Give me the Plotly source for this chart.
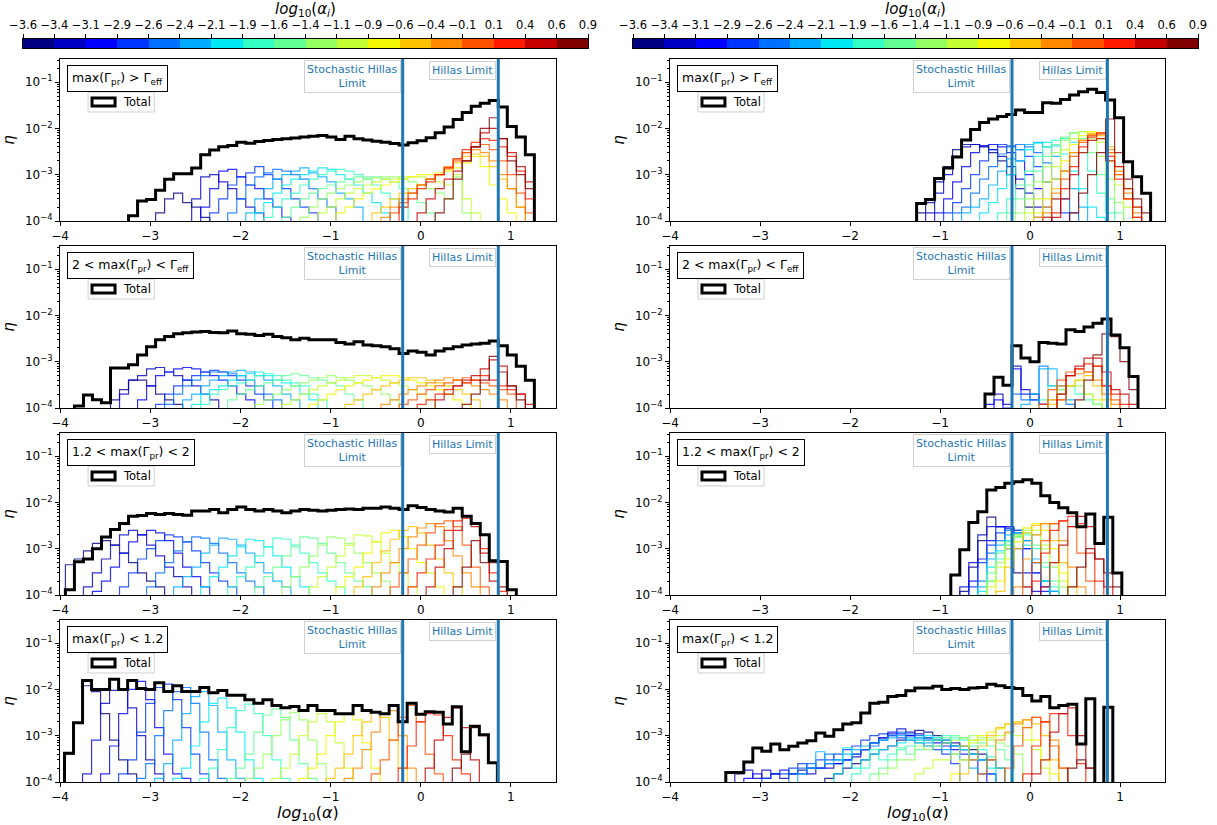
import numpy as np
import plotly.graph_objects as go

# ---------------- data (η values are given in units of 1e-4) ----------------
ETA_UNIT = 1e-4
BIN_W = 0.1
STOCH_LIMIT = -0.2
HILLAS_LIMIT = 0.86

X_TICKS = [-4, -3, -2, -1, 0, 1]
X_TICK_LABELS = ["−4", "−3", "−2", "−1", "0", "1"]
Y_TICKS = [1e-4, 1e-3, 1e-2, 1e-1]
Y_TICK_LABELS = ["10<sup>−4</sup>", "10<sup>−3</sup>", "10<sup>−2</sup>", "10<sup>−1</sup>"]

CBAR_EDGES = [-3.6, -3.35, -3.1, -2.85, -2.6, -2.35, -2.1, -1.85, -1.6, -1.35,
              -1.1, -0.85, -0.6, -0.35, -0.1, 0.15, 0.4, 0.65, 0.9]
CBAR_LABELS = ["−3.6", "−3.4", "−3.1", "−2.9", "−2.6", "−2.4", "−2.1", "−1.9", "−1.6", "−1.4",
               "−1.1", "−0.9", "−0.6", "−0.4", "−0.1", "0.1", "0.4", "0.6", "0.9"]
CBAR_INDEX = list(range(18))

PANEL_LABELS = ["max(Γ<sub>pr</sub>) &gt; Γ<sub>eff</sub>",
                "2 &lt; max(Γ<sub>pr</sub>) &lt; Γ<sub>eff</sub>",
                "1.2 &lt; max(Γ<sub>pr</sub>) &lt; 2",
                "max(Γ<sub>pr</sub>) &lt; 1.2"]

# ---- left column ----
P1_START = -3.24
P1_TOTAL = [1.3, 2.7, 2.9, 4.6, 8.0, 10.5, 10.5, 14, 27, 34, 40, 43, 50, 48, 52, 55, 58, 60, 62, 65,
            68, 70, 65, 58, 68, 60, 56, 53, 50, 47, 44, 49, 54, 63, 81, 107, 155, 220, 300, 350,
            400, 290, 110, 65, 27]
P1_PARTS = {
    0: (-2.94, [1.5, 3, 4, 2.5, 2, 1.2]),
    1: (-2.54, [3, 9, 10, 7, 5, 3, 2, 1.5]),
    2: (-2.44, [2, 5, 12, 13, 9, 6, 5, 3, 2, 1.2]),
    3: (-2.34, [1.5, 3, 6, 9, 11, 15, 10, 8, 5, 3, 2, 1.5]),
    4: (-2.14, [1.5, 3, 6, 9, 11, 13, 12, 10, 8, 5, 3, 2]),
    5: (-1.94, [1.5, 3, 5, 8, 10, 12, 14, 11, 9, 7, 4, 3, 2]),
    6: (-1.84, [1.5, 2.5, 4, 6, 8, 10, 12, 14, 13, 10, 8, 6, 4, 2.5, 1.5]),
    7: (-1.74, [1.2, 2, 3, 4, 6, 8, 10, 12, 13, 12, 10, 8, 6, 4, 3, 2]),
    8: (-1.54, [1.2, 2, 3, 4, 5, 6, 7, 8, 9, 9, 9, 8, 7, 5, 4, 2.5, 1.5]),
    9: (-1.34, [1.2, 2, 3, 4, 5, 6, 7, 8, 8.5, 9, 9, 8, 7, 6, 5, 4, 3, 9, 1.5]),
    10: (-1.14, [1.5, 2, 3, 4, 5, 6, 7, 8, 8, 9, 9, 9, 8, 7, 6, 10, 3, 1.5]),
    11: (-0.94, [1.5, 2, 3, 4, 5, 6, 7, 8, 9, 10, 10, 11, 12, 14, 18, 25, 15, 6, 3, 1.5]),
    12: (-0.54, [1.5, 2, 3, 4, 5, 6, 8, 10, 13, 18, 25, 28, 25, 15, 8, 5, 2]),
    13: (-0.44, [1.2, 2, 3, 4, 6, 8, 10, 15, 22, 30, 35, 30, 20, 10, 5, 2]),
    14: (-0.34, [1.5, 2.5, 4, 6, 8, 10, 14, 20, 30, 40, 45, 35, 20, 10, 4, 1.5]),
    15: (-0.24, [2, 3, 5, 7, 10, 14, 22, 35, 50, 60, 55, 40, 25, 12, 3]),
    16: (-0.04, [1.5, 3, 5, 8, 12, 20, 40, 80, 100, 60, 30, 15, 7]),
    17: (0.16, [1.5, 3, 8, 20, 40, 100, 170, 60, 20, 10, 5]),
}

P2_START = -3.84
P2_TOTAL = [1.1, 1.9, 1.5, 1.3, 7.3, 7.3, 8.6, 14, 21, 30, 35, 40, 42, 44, 45, 43, 42, 46, 40, 39,
            37, 39, 35, 33, 30, 32, 30, 30, 30, 26, 24, 27, 23, 22, 21, 19, 15, 17, 16, 14,
            17, 19, 21, 23, 24, 25, 28, 22, 14, 8, 4]
P2_PARTS = {
    0: (-3.44, [1.5, 2.5, 4, 4, 3, 2, 1.5, 1.2]),
    1: (-3.34, [2, 4, 5, 7, 7.5, 6, 5, 4, 3, 2, 1.5]),
    2: (-3.14, [1.5, 3, 5, 6, 7, 7.5, 7, 6, 5, 4, 3, 2, 1.5]),
    3: (-2.94, [1.2, 2, 3, 4, 5, 6, 6.5, 6, 5, 4, 3, 2, 1.5]),
    4: (-2.84, [1.2, 2, 3, 4, 5, 6, 6, 5.5, 5, 4, 3, 2, 1.5]),
    5: (-2.64, [1.5, 2, 3, 4, 5, 6, 6.5, 6, 5, 4, 3, 2, 1.5]),
    6: (-2.54, [1.2, 2, 2.5, 3, 4, 5, 5.5, 6, 5, 4, 3.5, 3, 2, 1.5]),
    7: (-2.44, [1.2, 2, 2.5, 3, 3.5, 4, 5, 5.5, 5, 4, 3.5, 3, 2, 1.5]),
    8: (-2.14, [1.5, 2, 2.5, 3, 3.5, 4, 5, 5.5, 5, 4.5, 4, 3.5, 3, 2, 1.5]),
    9: (-1.84, [1.2, 1.5, 2, 2.5, 3, 3.5, 4, 4.5, 5, 4.5, 4, 3.5, 3, 2.5, 2, 1.5]),
    10: (-1.54, [1.2, 1.5, 2, 2.5, 3, 3.5, 4, 4.5, 5, 5, 4.5, 4, 3.5, 3, 2.5, 2, 1.5]),
    11: (-1.24, [1.2, 1.5, 2, 2.5, 3, 3.5, 4, 4.5, 5, 5, 4.5, 4, 3.5, 3, 2.5, 2, 1.5, 1.2]),
    12: (-0.84, [1.2, 1.5, 2, 2.5, 3, 3.5, 4, 4.5, 4.5, 4, 3.5, 3, 2.5, 2, 1.5]),
    13: (-0.44, [1.2, 1.5, 2, 2.5, 3, 3.5, 4, 4.5, 4, 3.5, 3, 2.5, 2, 1.5]),
    14: (-0.24, [1.2, 1.5, 2, 2.5, 3, 3.5, 4, 4.5, 4, 3.5, 3, 2.5, 2]),
    15: (-0.04, [1.2, 1.5, 2, 2.5, 3, 3.5, 4, 5, 4, 3, 2.5, 2]),
    16: (0.16, [1.5, 2, 3, 4, 5, 7, 11, 8, 3, 2, 1.2]),
    17: (0.46, [1.2, 2, 4, 13, 6, 3, 1.5]),
}

P3_START = -3.94
P3_TOTAL = [1.3, 5.2, 6.0, 10, 18, 26, 35, 50, 52, 58, 55, 58, 55, 53, 65, 65, 70, 60, 70, 80,
            70, 65, 70, 65, 60, 65, 70, 68, 65, 68, 70, 72, 70, 75, 75, 80, 75, 70, 85, 78,
            70, 65, 62, 75, 50, 35, 20, 5.5, 5.3, 1.3]
P3_PARTS = {
    0: (-3.94, [4.5, 6, 9, 13, 15, 12, 8, 5, 3, 2, 1.5]),
    1: (-3.74, [1.5, 3, 6, 12, 20, 25, 20, 12, 7, 4, 2.5, 1.5]),
    2: (-3.64, [1.2, 2, 4, 8, 14, 20, 25, 22, 15, 8, 4, 2.5, 1.5]),
    3: (-3.34, [1.5, 3, 6, 10, 15, 20, 18, 14, 9, 5, 3, 2, 1.5]),
    4: (-3.04, [1.5, 3, 5, 9, 14, 18, 17, 13, 8, 5, 3, 2, 1.5]),
    5: (-2.74, [1.5, 2.5, 4, 8, 12, 17, 16, 12, 8, 5, 3, 2, 1.5]),
    6: (-2.44, [1.5, 2.5, 4, 7, 11, 16, 15, 11, 7, 4, 2.5, 1.5]),
    7: (-2.14, [1.5, 2.5, 4, 7, 11, 17, 16, 12, 8, 5, 3, 2, 1.5]),
    8: (-1.84, [1.5, 2.5, 4, 7, 11, 18, 17, 13, 8, 5, 3, 2, 1.5]),
    9: (-1.54, [1.5, 2.5, 4, 7, 12, 18, 17, 13, 8, 5, 3, 2]),
    10: (-1.24, [1.5, 2.5, 4, 7, 12, 20, 19, 14, 8, 5, 3, 1.5]),
    11: (-0.94, [1.5, 2.5, 4, 8, 14, 22, 25, 18, 10, 5, 3, 1.5]),
    12: (-0.74, [1.5, 2.5, 5, 9, 16, 25, 30, 22, 12, 6, 3, 1.5]),
    13: (-0.54, [1.5, 3, 5, 10, 18, 28, 35, 30, 15, 7, 3, 1.5]),
    14: (-0.34, [1.5, 3, 6, 12, 22, 35, 40, 30, 12, 4, 1.5]),
    15: (-0.14, [1.5, 3, 6, 12, 25, 40, 45, 35, 10, 3, 1.2]),
    16: (0.06, [1.5, 4, 10, 25, 50, 30, 8, 2]),
    17: (0.36, [1.5, 4, 15, 5, 5, 1.5]),
}

P4_START = -3.95
P4_TOTAL = [4.2, 19, 155, 100, 100, 165, 100, 155, 105, 100, 140, 90, 120, 90, 90, 110, 85, 95, 75, 75,
            60, 50, 60, 45, 40, 43, 35, 45, 35, 35, 30, 30, 45, 35, 32, 30, 45, 20, 50, 29,
            33, 32, 18, 42, 4.5, 16, 10.5, 2.6]
P4_PARTS = {
    0: (-3.95, [4, 19, 120, 90, 30, 8, 3, 1.5]),
    1: (-3.75, [1.5, 8, 50, 95, 100, 40, 10, 3, 1.5]),
    2: (-3.55, [1.5, 6, 30, 100, 150, 60, 15, 4, 1.5, 1.2]),
    3: (-3.35, [1.5, 3, 12, 50, 110, 130, 60, 15, 4, 1.5]),
    4: (-3.15, [1.2, 2.5, 10, 35, 90, 110, 50, 12, 3, 1.2]),
    5: (-2.95, [1.2, 2.5, 8, 30, 70, 90, 45, 12, 3, 1.2]),
    6: (-2.75, [1.2, 2, 6, 20, 50, 65, 40, 12, 3, 1.2]),
    7: (-2.45, [1.2, 2, 5, 15, 35, 48, 30, 10, 3, 1.2]),
    8: (-2.15, [1.2, 2, 4, 12, 28, 38, 25, 8, 2.5, 1.2]),
    9: (-1.95, [1.2, 2, 4, 10, 22, 32, 22, 8, 2.5]),
    10: (-1.65, [1.2, 2, 4, 10, 20, 30, 20, 7, 2]),
    11: (-1.35, [1.2, 2, 4, 10, 20, 30, 22, 7, 2]),
    12: (-1.05, [1.2, 2, 4, 10, 20, 32, 25, 8, 2]),
    13: (-0.85, [1.2, 2, 5, 12, 30, 35, 10, 2]),
    14: (-0.55, [1.5, 3, 8, 25, 45, 20, 4, 1.5]),
    15: (-0.25, [2, 6, 20, 30, 28, 10, 3, 1.5]),
    16: (0.05, [2, 8, 25, 40, 15, 3]),
    17: (0.35, [2, 4, 15, 10, 2.6]),
}

# ---- right column ----
P5_START = -1.26
P5_TOTAL = [2.4, 2.9, 8.3, 14, 24, 56, 95, 135, 160, 180, 200, 250, 220, 220, 360, 350, 420, 530, 620, 700,
            600, 410, 170, 19, 9, 4]
P5_PARTS = {
    0: (-1.26, [1.5, 2.5, 7, 15, 35, 45, 45, 40, 30, 20, 10, 5, 2, 1.2]),
    1: (-1.16, [1.5, 4, 10, 25, 40, 45, 42, 35, 25, 15, 8, 4, 2, 1.2]),
    2: (-1.06, [1.5, 3, 7, 15, 30, 42, 45, 40, 30, 20, 10, 5, 2]),
    3: (-0.96, [1.5, 2.5, 5, 10, 20, 35, 45, 42, 35, 25, 15, 7, 3, 1.5]),
    4: (-0.86, [1.5, 2, 4, 8, 15, 28, 40, 45, 40, 30, 18, 8, 3, 1.5]),
    5: (-0.76, [1.5, 2, 3, 6, 12, 22, 35, 45, 50, 40, 25, 12, 5, 2]),
    6: (-0.56, [1.5, 2.5, 5, 10, 20, 35, 48, 50, 42, 28, 12, 5, 2, 1.2]),
    7: (-0.36, [1.5, 3, 6, 12, 25, 40, 55, 60, 50, 30, 12, 4, 1.5]),
    8: (-0.26, [1.5, 3, 6, 12, 25, 45, 65, 80, 60, 30, 10, 3, 1.5]),
    9: (-0.16, [1.5, 3, 7, 15, 30, 55, 80, 85, 60, 25, 8, 2.5]),
    10: (-0.06, [1.5, 3, 7, 15, 35, 60, 85, 80, 50, 20, 6, 2]),
    11: (0.04, [1.5, 3, 8, 20, 45, 70, 85, 60, 30, 10, 3]),
    12: (0.04, [1.2, 2, 5, 12, 30, 55, 75, 70, 40, 15, 5, 2]),
    13: (0.14, [1.5, 4, 12, 30, 55, 75, 80, 35, 12, 4, 1.5]),
    14: (0.14, [1.2, 3, 8, 25, 50, 70, 75, 30, 10, 3, 1.2]),
    15: (0.24, [1.5, 5, 15, 40, 65, 80, 25, 8, 3, 1.2]),
    16: (0.24, [1.2, 3, 10, 30, 55, 60, 20, 15, 5, 2]),
    17: (0.44, [1.5, 4, 10, 30, 160, 30, 8, 3, 1.5]),
}

P6_START = -0.50
P6_TOTAL = [2.0, 4.6, 3.1, 22, 12, 10, 26, 25, 24, 49, 45, 56, 68, 84, 38, 20, 4.8]
P6_PARTS = {
    1: (-0.50, [1.2, 2, 1.2, 8, 2.5, 2, 1.2]),
    2: (-0.40, [1.5, 1.0, 7, 2, 1.5, 1.2]),
    4: (-0.20, [2, 1.5, 1.5, 8, 3, 2, 1.2]),
    5: (-0.10, [1.2, 2, 7, 7, 3, 1.5]),
    7: (0.10, [1.5, 3, 2.5, 3, 2, 1.5, 1.2]),
    9: (0.20, [1.5, 2.5, 3, 3, 2, 1.2]),
    10: (0.30, [1.5, 3, 4, 2, 1.5]),
    12: (0.20, [1.2, 2, 3, 4, 5, 3, 1.5]),
    13: (0.20, [1.5, 3, 5, 5.5, 6, 4, 2, 1.2]),
    14: (0.10, [1.2, 2.5, 4, 6, 7, 6, 8, 3, 1.5]),
    15: (0.30, [1.5, 5, 7, 9, 8, 3, 2, 1.2]),
    16: (0.30, [2, 5, 8, 12, 12, 6, 2.5, 2, 1.2]),
    17: (0.50, [1.5, 4, 14, 40, 35, 10, 2.5]),
}

P7_START = -0.88
P7_TOTAL = [2.7, 9.5, 37, 63, 185, 210, 260, 280, 310, 260, 140, 100, 77, 60, 30, 56, 13, 48, 3.0]
P7_PARTS = {
    0: (-0.78, [1.2, 4, 15, 48, 30, 10, 3, 1.5]),
    1: (-0.78, [1.5, 5, 20, 30, 30, 28, 10, 3, 1.2]),
    2: (-0.68, [2, 6, 15, 30, 30, 25, 10, 3, 1.2]),
    3: (-0.68, [1.5, 5, 12, 22, 27, 22, 10, 3, 1.5]),
    4: (-0.58, [2, 8, 15, 25, 25, 15, 5, 2, 1.2]),
    5: (-0.58, [1.5, 6, 12, 20, 22, 15, 6, 2, 1.2]),
    6: (-0.58, [1.2, 4, 9, 15, 18, 12, 5, 2]),
    7: (-0.48, [2, 6, 12, 18, 20, 10, 4, 1.5]),
    8: (-0.58, [1.0, 3, 8, 14, 20, 22, 12, 5, 2]),
    9: (-0.48, [2, 5, 12, 20, 25, 20, 10, 4, 1.5]),
    10: (-0.48, [1.5, 4, 10, 18, 28, 25, 12, 5, 2]),
    11: (-0.38, [2, 6, 14, 28, 35, 25, 10, 3]),
    12: (-0.38, [1.2, 4, 10, 22, 32, 35, 15, 5, 1.5]),
    13: (-0.18, [1.5, 6, 20, 35, 35, 15, 4, 1.5]),
    14: (-0.08, [1.5, 5, 15, 35, 40, 30, 8, 2]),
    15: (0.02, [2, 8, 25, 40, 50, 35, 8, 2]),
    16: (0.12, [1.5, 5, 12, 30, 50, 30, 6, 1.5]),
    17: (0.42, [1.5, 4, 10, 6, 3, 1.5]),
}

P8_START = -3.38
P8_TOTAL = [1.6, 1.6, 2.7, 5.4, 4.6, 6.6, 5.0, 5.9, 7.0, 7.8, 11.4, 9.7, 13.5, 18, 19, 31, 50, 53, 70, 74,
            94, 107, 107, 117, 100, 105, 100, 107, 110, 130, 120, 110, 105, 74, 56, 70, 40, 45, 48, 6.6,
            63, 0, 41]
P8_PARTS = {
    0: (-2.28, [1.2, 1.5, 2, 2.5, 3, 4, 5, 6, 8, 10, 13, 12, 10, 8, 7, 6, 5, 4, 3, 2]),
    1: (-3.28, [1.5, 1.8, 1.2, 1.8, 1.5, 1.2, 1.5, 1.8, 1.5, 2, 2, 2.5, 3, 3.5, 5, 7, 9, 11, 14, 12,
                11, 9, 8, 7, 6, 5, 4, 3, 1.5]),
    2: (-3.18, [1.2, 1.5, 1.2, 1.5, 1.8, 1.5, 1.5, 2, 2, 2.5, 2.5, 3, 4, 5, 7, 9, 12, 11, 10, 9,
                8, 7, 6, 5, 4, 3, 1.5]),
    3: (-2.98, [1.2, 1.5, 1.5, 2, 2.5, 2, 3, 3, 4, 5, 6, 8, 10, 11, 10, 9, 8, 7, 6, 5, 4, 2.5]),
    4: (-2.68, [1.5, 2, 2.5, 2, 4, 3, 3, 4, 5, 6, 8, 10, 12, 11, 10, 9, 8, 7, 6, 5, 4, 3, 1.5]),
    5: (-2.58, [1.5, 2, 4.5, 2.5, 3, 4, 5, 6, 7, 8, 9, 10, 9, 8, 7, 6, 5, 4, 3, 2]),
    6: (-2.18, [1.5, 5.5, 2, 3, 4, 5, 6, 7, 8, 9, 10, 9, 8, 6, 5, 4, 3, 2]),
    7: (-1.98, [1.5, 2, 5, 3, 4, 5, 6, 7, 8, 9, 10, 9, 8, 6, 5, 3.5, 2]),
    8: (-1.78, [1.5, 2, 3, 5.5, 4, 5, 6, 8, 9, 10, 9, 8, 7, 6, 5, 3]),
    9: (-1.68, [1.5, 2, 3, 3, 6, 5, 6, 7, 8, 9, 10, 9, 8, 7, 6, 4]),
    10: (-1.28, [1.5, 2, 3, 3, 4, 6, 7, 8, 9, 10, 11, 10, 8, 5, 2]),
    11: (-0.88, [1.5, 3, 8, 10, 12, 14, 18, 20, 15, 8, 3, 1.5]),
    12: (-0.78, [1.5, 3, 6, 10, 15, 18, 20, 22, 18, 10, 3]),
    13: (-0.58, [1.5, 3, 8, 12, 18, 22, 25, 20, 8, 2]),
    14: (-0.28, [2, 6, 15, 25, 20, 6, 2]),
    15: (-0.08, [1.5, 6, 20, 30, 30, 10, 2.5]),
    16: (0.02, [1.5, 3, 12, 30, 40, 10, 2]),
    17: (0.42, [2, 3, 2]),
}

# panel order: (row, col)
PANELS = [
    ((0, 0), P1_START, P1_TOTAL, P1_PARTS, PANEL_LABELS[0]),
    ((1, 0), P2_START, P2_TOTAL, P2_PARTS, PANEL_LABELS[1]),
    ((2, 0), P3_START, P3_TOTAL, P3_PARTS, PANEL_LABELS[2]),
    ((3, 0), P4_START, P4_TOTAL, P4_PARTS, PANEL_LABELS[3]),
    ((0, 1), P5_START, P5_TOTAL, P5_PARTS, PANEL_LABELS[0]),
    ((1, 1), P6_START, P6_TOTAL, P6_PARTS, PANEL_LABELS[1]),
    ((2, 1), P7_START, P7_TOTAL, P7_PARTS, PANEL_LABELS[2]),
    ((3, 1), P8_START, P8_TOTAL, P8_PARTS, PANEL_LABELS[3]),
]

# ---------------- styling ----------------
FIG_W, FIG_H = 1217, 825
COL_PX = [(60, 556), (670, 1165)]
ROW_TOP_PX = [59, 246, 433, 620]
ROW_H = 162
CBAR_PX = [(23, 588), (633, 1198)]
CBAR_Y_PX = (39, 48)
XTITLE_Y_PX = 813
FONT = "DejaVu Sans"
LIMIT_COLOR = "#1f77b4"
FLOOR = 1e-7


def jet(t):
    r = np.interp(t, [0, 0.35, 0.66, 0.89, 1], [0, 0, 1, 1, 0.5])
    g = np.interp(t, [0, 0.125, 0.375, 0.64, 0.91, 1], [0, 0, 1, 1, 0, 0])
    b = np.interp(t, [0, 0.11, 0.34, 0.65, 1], [0.5, 1, 1, 0, 0])
    return "rgb(%d,%d,%d)" % (round(r * 255), round(g * 255), round(b * 255))


COLORS = [jet(i / 17) for i in range(18)]


def step_xy(start, values):
    edges = [start + BIN_W * k for k in range(len(values) + 1)]
    vals = [v * ETA_UNIT if v > 0 else FLOOR for v in values]
    xs = [edges[0]] + edges[:-1] + [edges[-1], edges[-1]]
    ys = [FLOOR] + vals + [vals[-1], FLOOR]
    return xs, ys


def xdom(col):
    a, b = COL_PX[col]
    return [a / FIG_W, b / FIG_W]


def ydom(row):
    top = ROW_TOP_PX[row]
    return [1 - (top + ROW_H) / FIG_H, 1 - top / FIG_H]


fig = go.Figure()
layout = dict(
    width=FIG_W, height=FIG_H,
    margin=dict(l=0, r=0, t=0, b=0, autoexpand=False),
    paper_bgcolor="white", plot_bgcolor="white",
    font=dict(family=FONT, color="black", size=11),
    showlegend=False,
)
shapes = []
annotations = []

for n, ((row, col), start, total, parts, label) in enumerate(PANELS, start=1):
    xa = "x" if n == 1 else f"x{n}"
    ya = "y" if n == 1 else f"y{n}"
    for idx, (s, vals) in parts.items():
        xs, ys = step_xy(s, vals)
        fig.add_trace(go.Scatter(x=xs, y=ys, mode="lines", xaxis=xa, yaxis=ya,
                                 line=dict(color=COLORS[idx], width=1.2, shape="hv"),
                                 opacity=0.8, hoverinfo="skip", showlegend=False))
    xs, ys = step_xy(start, total)
    fig.add_trace(go.Scatter(x=xs, y=ys, mode="lines", xaxis=xa, yaxis=ya,
                             line=dict(color="black", width=3, shape="hv"),
                             name="Total", showlegend=False))

    xaxis = dict(domain=xdom(col), anchor=ya, range=[-4, 1.5], automargin=False,
                 tickmode="array", tickvals=X_TICKS, ticktext=X_TICK_LABELS,
                 ticks="outside", ticklen=4, tickcolor="black",
                 showline=True, mirror=True, linecolor="black", linewidth=1,
                 showgrid=False, zeroline=False, tickfont=dict(size=12))
    yaxis = dict(domain=ydom(row), anchor=xa, type="log", range=[-4, -0.5], automargin=False,
                 tickmode="array", tickvals=Y_TICKS, ticktext=Y_TICK_LABELS,
                 ticks="outside", ticklen=4, tickcolor="black",
                 minor=dict(ticks="outside", ticklen=2, tickcolor="black", dtick="D1", showgrid=False),
                 showline=True, mirror=True, linecolor="black", linewidth=1,
                 showgrid=False, zeroline=False, tickfont=dict(size=12),
                 title=dict(text="<i>η</i>", font=dict(size=15), standoff=6))
    layout["xaxis" if n == 1 else f"xaxis{n}"] = xaxis
    layout["yaxis" if n == 1 else f"yaxis{n}"] = yaxis

    if row == 3:
        d = xdom(col)
        annotations.append(dict(xref="paper", yref="paper", x=(d[0] + d[1]) / 2,
                                y=1 - XTITLE_Y_PX / FIG_H, xanchor="center", yanchor="middle",
                                text="<i>log</i><sub>10</sub>(<i>α</i>)", showarrow=False,
                                font=dict(size=16)))

    xd = f"{xa} domain"
    yd = f"{ya} domain"
    # limit lines
    for lim in (STOCH_LIMIT, HILLAS_LIMIT):
        shapes.append(dict(type="line", xref=xa, yref=yd, x0=lim, x1=lim, y0=0, y1=1,
                           line=dict(color=LIMIT_COLOR, width=3), layer="above"))
    annotations.append(dict(xref=xa, yref=yd, x=STOCH_LIMIT - 0.02, y=0.995, xanchor="right", yanchor="top",
                            text="Stochastic Hillas<br>Limit", showarrow=False, align="center",
                            font=dict(size=11, color=LIMIT_COLOR), bgcolor="white",
                            bordercolor="#d0d0d0", borderwidth=1, borderpad=2))
    annotations.append(dict(xref=xa, yref=yd, x=HILLAS_LIMIT - 0.02, y=0.985, xanchor="right", yanchor="top",
                            text="Hillas Limit", showarrow=False, align="center",
                            font=dict(size=11, color=LIMIT_COLOR), bgcolor="white",
                            bordercolor="#d0d0d0", borderwidth=1, borderpad=2))
    # category box
    annotations.append(dict(xref=xd, yref=yd, x=0.014, y=0.963, xanchor="left", yanchor="top",
                            text=label, showarrow=False, font=dict(size=12.5),
                            bgcolor="white", bordercolor="black", borderwidth=1, borderpad=4))
    # Total legend
    shapes.append(dict(type="rect", xref=xd, yref=yd, x0=0.0566, x1=0.19, y0=0.673, y1=0.796,
                       line=dict(color="#d0d0d0", width=1), fillcolor="white", layer="above"))
    shapes.append(dict(type="rect", xref=xd, yref=yd, x0=0.0646, x1=0.111, y0=0.71, y1=0.759,
                       line=dict(color="black", width=3), fillcolor="white", layer="above"))
    annotations.append(dict(xref=xd, yref=yd, x=0.123, y=0.735, xanchor="left", yanchor="middle",
                            text="Total", showarrow=False, font=dict(size=11.5)))

# colorbars (discrete jet) drawn as heatmaps on their own axes
cscale = []
for i, c in enumerate(COLORS):
    cscale.append([i / 18, c])
    cscale.append([(i + 1) / 18, c])

for k, (a, b) in enumerate(CBAR_PX):
    n = 9 + k
    fig.add_trace(go.Heatmap(z=[CBAR_INDEX], x=CBAR_EDGES, y=[0, 1], xaxis=f"x{n}", yaxis=f"y{n}",
                             colorscale=cscale, zmin=-0.5, zmax=17.5, showscale=False, hoverinfo="skip"))
    layout[f"xaxis{n}"] = dict(domain=[a / FIG_W, b / FIG_W], anchor=f"y{n}", side="top", automargin=False,
                               range=[CBAR_EDGES[0], CBAR_EDGES[-1]],
                               tickmode="array", tickvals=CBAR_EDGES, ticktext=CBAR_LABELS,
                               ticks="outside", ticklen=4, tickcolor="black",
                               showline=True, mirror=True, linecolor="black", linewidth=1.2,
                               showgrid=False, zeroline=False, tickfont=dict(size=11.5),
                               title=dict(text="<i>log</i><sub>10</sub>(<i>α</i><sub><i>i</i></sub>)",
                                          font=dict(size=15), standoff=2))
    layout[f"yaxis{n}"] = dict(domain=[1 - CBAR_Y_PX[1] / FIG_H, 1 - CBAR_Y_PX[0] / FIG_H],
                               anchor=f"x{n}", range=[0, 1], showticklabels=False, ticks="", automargin=False,
                               showline=True, mirror=True, linecolor="black", linewidth=1.2,
                               showgrid=False, zeroline=False)

layout["shapes"] = shapes
layout["annotations"] = annotations
fig.update_layout(**layout)
fig.write_html("out.html")
